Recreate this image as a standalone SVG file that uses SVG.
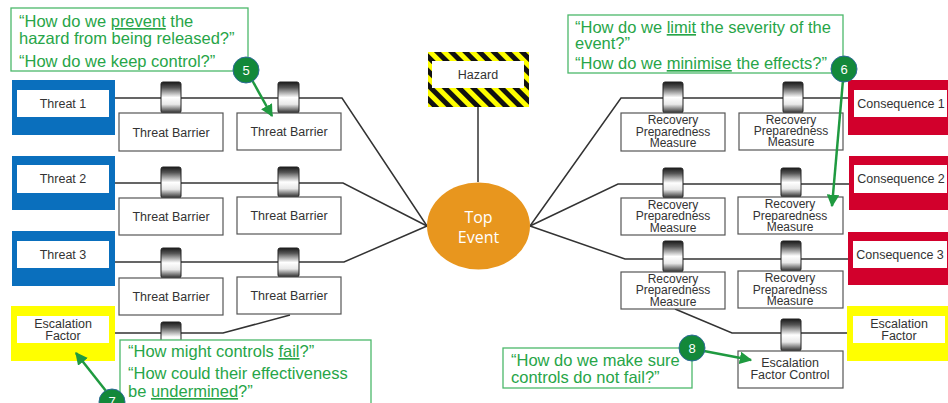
<svg xmlns="http://www.w3.org/2000/svg" width="948" height="403" viewBox="0 0 948 403">
  <defs>
    <linearGradient id="cyl" x1="0" y1="0" x2="0" y2="1">
      <stop offset="0" stop-color="#1a1a1a"/>
      <stop offset="0.18" stop-color="#555"/>
      <stop offset="0.5" stop-color="#ffffff"/>
      <stop offset="0.72" stop-color="#e8e8e8"/>
      <stop offset="1" stop-color="#2a2a2a"/>
    </linearGradient>
    <pattern id="stripes" patternUnits="userSpaceOnUse" width="10" height="10" patternTransform="rotate(-45)">
      <rect width="10" height="10" fill="#ffff00"/>
      <rect width="5" height="10" fill="#111"/>
    </pattern>
    <marker id="arr" viewBox="0 0 10 10" refX="9" refY="5" markerWidth="5" markerHeight="5" orient="auto">
      <path d="M0,0 L10,5 L0,10 Z" fill="#1f9a40"/>
    </marker>
  </defs>
  <style>
    .lbl { font-family: "Liberation Sans", Arial, sans-serif; font-size: 12.5px; fill: #333; text-anchor: middle; }
    .rpm { font-size: 12px; }
    .q { font-family: "Liberation Sans", Arial, sans-serif; font-size: 16.5px; fill: #27a548; }
    .u { text-decoration: underline; }
    .box { fill: #fff; stroke: #555; stroke-width: 1.2; }
    .inner { fill: #fff; }
    .threat { fill: #0a6fbd; }
    .cons { fill: #d2002c; }
    .esc { fill: #ffff00; }
    .barrier { fill: url(#cyl); stroke: #222; stroke-width: 1; }
    .callout { fill: #fff; stroke: #4cb86a; stroke-width: 1.3; }
    .link { fill: none; stroke: #333; stroke-width: 1.5; }
    .pointer { fill: none; stroke: #1f9a40; stroke-width: 2.5; marker-end: url(#arr); }
    .badge { fill: #13883a; stroke: #2d6b98; stroke-width: 1; }
    .num { font-family: "Liberation Sans", Arial, sans-serif; font-size: 13px; fill: #fff; text-anchor: middle; }
  </style>
  <rect width="948" height="403" fill="#fff"/>

  <!-- connectors -->
  <g id="connectors">
    <polyline class="link" points="115,98 342,98 427,226"/>
    <polyline class="link" points="115,183 343,183 427,226"/>
    <polyline class="link" points="115,262 344,262 427,226"/>
    <polyline class="link" points="530,226 621,98 848,98"/>
    <polyline class="link" points="530,226 618,184 849,184"/>
    <polyline class="link" points="530,226 625,259 848,259"/>
    <polyline class="link" points="115,333 223,333 290,315"/>
    <polyline class="link" points="675,309 732,333 847,333"/>
    <line class="link" x1="478" y1="107" x2="478" y2="182"/>
  </g>

  <!-- hazard -->
  <g id="hazard">
    <rect x="428" y="52" width="101" height="55" fill="url(#stripes)"/>
    <rect class="inner" x="432" y="61" width="92" height="27"/>
    <text class="lbl" x="478" y="79">Hazard</text>
  </g>

  <!-- top event -->
  <g id="top-event">
    <ellipse cx="478.5" cy="226" rx="51.5" ry="43.5" fill="#e8961e"/>
    <text x="478.5" y="223" font-family="'Open Sans', 'Liberation Sans', sans-serif" font-size="16" fill="#fff" text-anchor="middle">Top</text>
    <text x="478.5" y="243" font-family="'Open Sans', 'Liberation Sans', sans-serif" font-size="16" fill="#fff" text-anchor="middle">Event</text>
  </g>

  <!-- threats -->
  <g id="threat-1">
    <rect class="threat" x="12" y="80" width="103" height="55"/>
    <rect class="inner" x="17" y="90" width="92" height="27"/>
    <text class="lbl" x="63" y="108">Threat 1</text>
  </g>
  <g id="threat-2">
    <rect class="threat" x="12" y="156" width="103" height="54"/>
    <rect class="inner" x="17" y="165" width="92" height="28"/>
    <text class="lbl" x="63" y="183">Threat 2</text>
  </g>
  <g id="threat-3">
    <rect class="threat" x="12" y="231" width="103" height="55"/>
    <rect class="inner" x="17" y="241" width="92" height="27"/>
    <text class="lbl" x="63" y="259">Threat 3</text>
  </g>
  <g id="escalation-factor-left">
    <rect class="esc" x="11" y="306" width="104" height="55"/>
    <rect class="inner" x="17" y="316" width="92" height="27"/>
    <text class="lbl" x="63" y="328">Escalation</text>
    <text class="lbl" x="63" y="340">Factor</text>
  </g>

  <!-- threat barriers -->
  <g id="threat-barrier-1a">
    <rect class="barrier" x="161" y="82" width="20" height="31" rx="2"/>
    <rect class="box" x="119" y="113" width="104" height="38"/>
    <text class="lbl" x="171" y="137">Threat Barrier</text>
  </g>
  <g id="threat-barrier-1b">
    <rect class="barrier" x="278" y="82" width="21" height="31" rx="2"/>
    <rect class="box" x="237" y="113" width="104" height="37"/>
    <text class="lbl" x="289" y="136">Threat Barrier</text>
  </g>
  <g id="threat-barrier-2a">
    <rect class="barrier" x="161" y="167" width="20" height="31" rx="2"/>
    <rect class="box" x="119" y="198" width="104" height="37"/>
    <text class="lbl" x="171" y="221">Threat Barrier</text>
  </g>
  <g id="threat-barrier-2b">
    <rect class="barrier" x="278" y="167" width="21" height="30" rx="2"/>
    <rect class="box" x="237" y="197" width="104" height="37"/>
    <text class="lbl" x="289" y="220">Threat Barrier</text>
  </g>
  <g id="threat-barrier-3a">
    <rect class="barrier" x="161" y="248" width="20" height="30" rx="2"/>
    <rect class="box" x="119" y="278" width="104" height="37"/>
    <text class="lbl" x="171" y="301">Threat Barrier</text>
  </g>
  <g id="threat-barrier-3b">
    <rect class="barrier" x="278" y="248" width="21" height="29" rx="2"/>
    <rect class="box" x="237" y="277" width="104" height="37"/>
    <text class="lbl" x="289" y="300">Threat Barrier</text>
  </g>
  <g id="escalation-barrier-left">
    <rect class="barrier" x="161" y="322" width="20" height="30" rx="2"/>
  </g>

  <!-- consequences -->
  <g id="consequence-1">
    <rect class="cons" x="848" y="80" width="100" height="55"/>
    <rect class="inner" x="854" y="90" width="93" height="27"/>
    <text class="lbl" x="901" y="108">Consequence 1</text>
  </g>
  <g id="consequence-2">
    <rect class="cons" x="849" y="156" width="99" height="54"/>
    <rect class="inner" x="854" y="165" width="93" height="28"/>
    <text class="lbl" x="901" y="183">Consequence 2</text>
  </g>
  <g id="consequence-3">
    <rect class="cons" x="848" y="232" width="100" height="53"/>
    <rect class="inner" x="853" y="241" width="94" height="27"/>
    <text class="lbl" x="900" y="259">Consequence 3</text>
  </g>
  <g id="escalation-factor-right">
    <rect class="esc" x="847" y="306" width="101" height="55"/>
    <rect class="inner" x="853" y="316" width="92" height="27"/>
    <text class="lbl" x="899" y="328">Escalation</text>
    <text class="lbl" x="899" y="340">Factor</text>
  </g>

  <!-- recovery preparedness measures -->
  <g id="recovery-1a">
    <rect class="barrier" x="663" y="82" width="20" height="31" rx="2"/>
    <rect class="box" x="621" y="113" width="104" height="38"/>
    <text class="lbl rpm" x="673" y="124">Recovery</text>
    <text class="lbl rpm" x="673" y="136">Preparedness</text>
    <text class="lbl rpm" x="673" y="147">Measure</text>
  </g>
  <g id="recovery-1b">
    <rect class="barrier" x="783" y="82" width="20" height="31" rx="2"/>
    <rect class="box" x="739" y="113" width="104" height="37"/>
    <text class="lbl rpm" x="791" y="124">Recovery</text>
    <text class="lbl rpm" x="791" y="135">Preparedness</text>
    <text class="lbl rpm" x="791" y="146">Measure</text>
  </g>
  <g id="recovery-2a">
    <rect class="barrier" x="663" y="168" width="20" height="30" rx="2"/>
    <rect class="box" x="621" y="198" width="104" height="37"/>
    <text class="lbl rpm" x="673" y="209">Recovery</text>
    <text class="lbl rpm" x="673" y="220">Preparedness</text>
    <text class="lbl rpm" x="673" y="232">Measure</text>
  </g>
  <g id="recovery-2b">
    <rect class="barrier" x="781" y="168" width="20" height="29" rx="2"/>
    <rect class="box" x="738" y="197" width="105" height="37"/>
    <text class="lbl rpm" x="790" y="208">Recovery</text>
    <text class="lbl rpm" x="790" y="220">Preparedness</text>
    <text class="lbl rpm" x="790" y="231">Measure</text>
  </g>
  <g id="recovery-3a">
    <rect class="barrier" x="663" y="241" width="20" height="31" rx="2"/>
    <rect class="box" x="621" y="272" width="104" height="37"/>
    <text class="lbl rpm" x="673" y="283">Recovery</text>
    <text class="lbl rpm" x="673" y="294">Preparedness</text>
    <text class="lbl rpm" x="673" y="306">Measure</text>
  </g>
  <g id="recovery-3b">
    <rect class="barrier" x="781" y="241" width="20" height="30" rx="2"/>
    <rect class="box" x="738" y="271" width="105" height="37"/>
    <text class="lbl rpm" x="790" y="282">Recovery</text>
    <text class="lbl rpm" x="790" y="294">Preparedness</text>
    <text class="lbl rpm" x="790" y="305">Measure</text>
  </g>
  <g id="escalation-factor-control">
    <rect class="barrier" x="781" y="319" width="20" height="32" rx="2"/>
    <rect class="box" x="738" y="351" width="105" height="37"/>
    <text class="lbl" x="790" y="367">Escalation</text>
    <text class="lbl" x="790" y="379">Factor Control</text>
  </g>

  <!-- question callouts -->
  <g id="callout-prevent">
    <rect class="callout" x="11" y="8" width="237" height="63"/>
    <text class="q" x="19" y="27">“How do we <tspan class="u">prevent</tspan> the</text>
    <text class="q" x="19" y="44">hazard from being released?”</text>
    <text class="q" x="19" y="67">“How do we keep control?”</text>
  </g>
  <g id="callout-limit">
    <rect class="callout" x="568" y="15" width="275" height="58"/>
    <text class="q" x="575" y="33">“How do we <tspan class="u">limit</tspan> the severity of the</text>
    <text class="q" x="575" y="49">event?”</text>
    <text class="q" x="575" y="69">“How do we <tspan class="u">minimise</tspan> the effects?”</text>
  </g>
  <g id="callout-fail">
    <rect class="callout" x="120" y="340" width="251" height="66"/>
    <text class="q" x="128" y="357">“How might controls <tspan class="u">fail</tspan>?”</text>
    <text class="q" x="128" y="379">“How could their effectiveness</text>
    <text class="q" x="128" y="397">be <tspan class="u">undermined</tspan>?”</text>
  </g>
  <g id="callout-sure">
    <rect class="callout" x="503" y="348" width="189" height="40"/>
    <text class="q" x="511" y="366">“How do we make sure</text>
    <text class="q" x="511" y="383">controls do not fail?”</text>
  </g>

  <!-- numbered pointers -->
  <g id="pointer-5">
    <line class="pointer" x1="252" y1="80" x2="272" y2="116"/>
    <circle class="badge" cx="246" cy="70" r="13"/>
    <text class="num" x="246" y="75">5</text>
  </g>
  <g id="pointer-6">
    <line class="pointer" x1="843" y1="80" x2="832" y2="206"/>
    <circle class="badge" cx="844" cy="69" r="13"/>
    <text class="num" x="844" y="74">6</text>
  </g>
  <g id="pointer-7">
    <line class="pointer" x1="106" y1="391" x2="76" y2="353"/>
    <circle class="badge" cx="112" cy="402" r="13"/>
    <text class="num" x="112" y="406">7</text>
  </g>
  <g id="pointer-8">
    <line class="pointer" x1="704" y1="351" x2="751" y2="360"/>
    <circle class="badge" cx="692" cy="348" r="13"/>
    <text class="num" x="692" y="353">8</text>
  </g>
</svg>
